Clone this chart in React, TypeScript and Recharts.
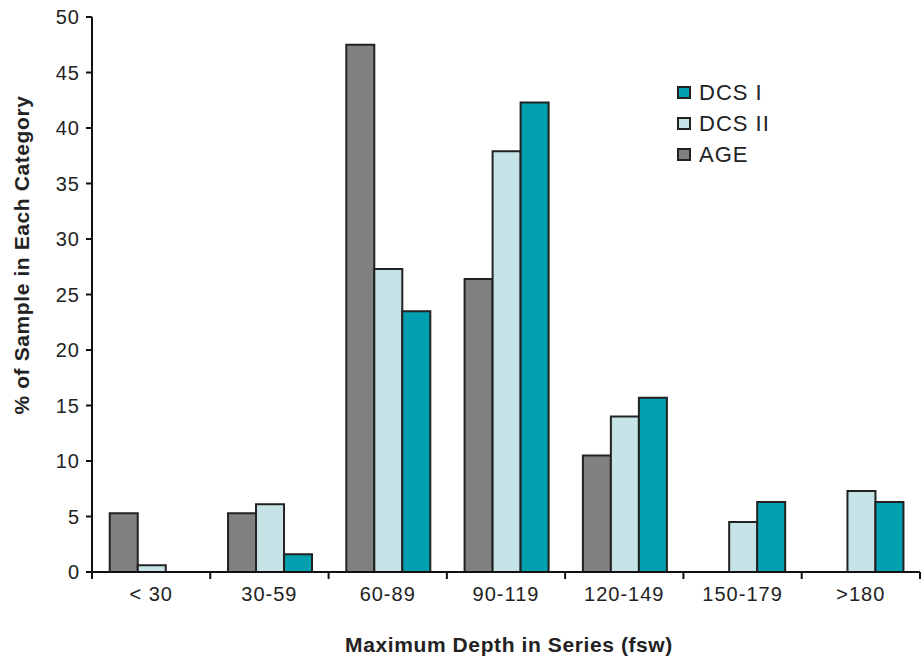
import { BarChart, Bar, XAxis, YAxis } from 'recharts'

const categories = ['< 30', '30-59', '60-89', '90-119', '120-149', '150-179', '>180']
const ageValues = [5.3, 5.3, 47.5, 26.4, 10.5, 0, 0]
const dcs2Values = [0.6, 6.1, 27.3, 37.9, 14.0, 4.5, 7.3]
const dcs1Values = [0, 1.6, 23.5, 42.3, 15.7, 6.3, 6.3]
const yTicks = [0, 5, 10, 15, 20, 25, 30, 35, 40, 45, 50]

const data = categories.map((c, i) => ({
  name: c,
  age: ageValues[i],
  dcs2: dcs2Values[i],
  dcs1: dcs1Values[i],
}))

const legendItems = [
  { label: 'DCS I', color: '#00a0b0' },
  { label: 'DCS II', color: '#c6e4e8' },
  { label: 'AGE', color: '#808080' },
]

const FONT = '"Liberation Sans", Arial, sans-serif'
const PLOT_LEFT = 92
const PLOT_RIGHT = 920
const BAND = (PLOT_RIGHT - PLOT_LEFT) / categories.length

function CategoryTick(props: any) {
  const { x, payload, index } = props
  const axisY = 572
  const left = x - BAND / 2
  return (
    <g>
      <line x1={left} y1={axisY} x2={left} y2={axisY + 7} stroke="#111" strokeWidth={2} />
      {index === categories.length - 1 && (
        <line x1={x + BAND / 2} y1={axisY} x2={x + BAND / 2} y2={axisY + 7} stroke="#111" strokeWidth={2} />
      )}
      <text x={x} y={axisY + 29} textAnchor="middle" fill="#222" fontSize={20} letterSpacing={1} fontFamily={FONT}>
        {payload.value}
      </text>
    </g>
  )
}

function LegendBox() {
  return (
    <div
      style={{
        position: 'absolute',
        left: 677,
        top: 77,
        fontFamily: FONT,
        fontSize: 22,
        letterSpacing: 1,
        color: '#222',
      }}
    >
      {legendItems.map(item => (
        <div key={item.label} style={{ display: 'flex', alignItems: 'center', height: 31 }}>
          <span
            style={{
              width: 10,
              height: 9,
              background: item.color,
              border: '2px solid #222',
              marginRight: 8,
              display: 'inline-block',
            }}
          />
          {item.label}
        </div>
      ))}
    </div>
  )
}

export default function App() {
  return (
    <div style={{ position: 'absolute', left: 0, top: 0, width: 923, height: 661, background: '#fff' }}>
      <BarChart
        width={923}
        height={661}
        data={data}
        margin={{ top: 17, right: 3, bottom: 0, left: 0 }}
        barCategoryGap="15%"
        barGap={0}
      >
        <XAxis
          dataKey="name"
          height={89}
          axisLine={{ stroke: '#111', strokeWidth: 2 }}
          tickLine={false}
          tick={<CategoryTick />}
          interval={0}
          label={() => (
            <text x={509} y={652} textAnchor="middle" fontWeight="bold" fontSize={21} letterSpacing={0.6} fill="#222" fontFamily={FONT}>
              Maximum Depth in Series (fsw)
            </text>
          )}
        />
        <YAxis
          width={92}
          domain={[0, 50]}
          ticks={yTicks}
          interval={0}
          axisLine={{ stroke: '#111', strokeWidth: 2 }}
          tickLine={{ stroke: '#111', strokeWidth: 2 }}
          tickSize={6}
          tickMargin={6}
          tick={{ fill: '#222', fontSize: 20, letterSpacing: 1, fontFamily: FONT }}
          label={() => (
            <text
              x={29}
              y={255}
              transform="rotate(-90 29 255)"
              textAnchor="middle"
              fontWeight="bold"
              fontSize={21}
              letterSpacing={0.6}
              fill="#222"
              fontFamily={FONT}
            >
              % of Sample in Each Category
            </text>
          )}
        />
        <Bar dataKey="age" name="AGE" fill="#808080" stroke="#222" strokeWidth={2} isAnimationActive={false} />
        <Bar dataKey="dcs2" name="DCS II" fill="#c6e4e8" stroke="#222" strokeWidth={2} isAnimationActive={false} />
        <Bar dataKey="dcs1" name="DCS I" fill="#00a0b0" stroke="#222" strokeWidth={2} isAnimationActive={false} />
      </BarChart>
      <LegendBox />
    </div>
  )
}
